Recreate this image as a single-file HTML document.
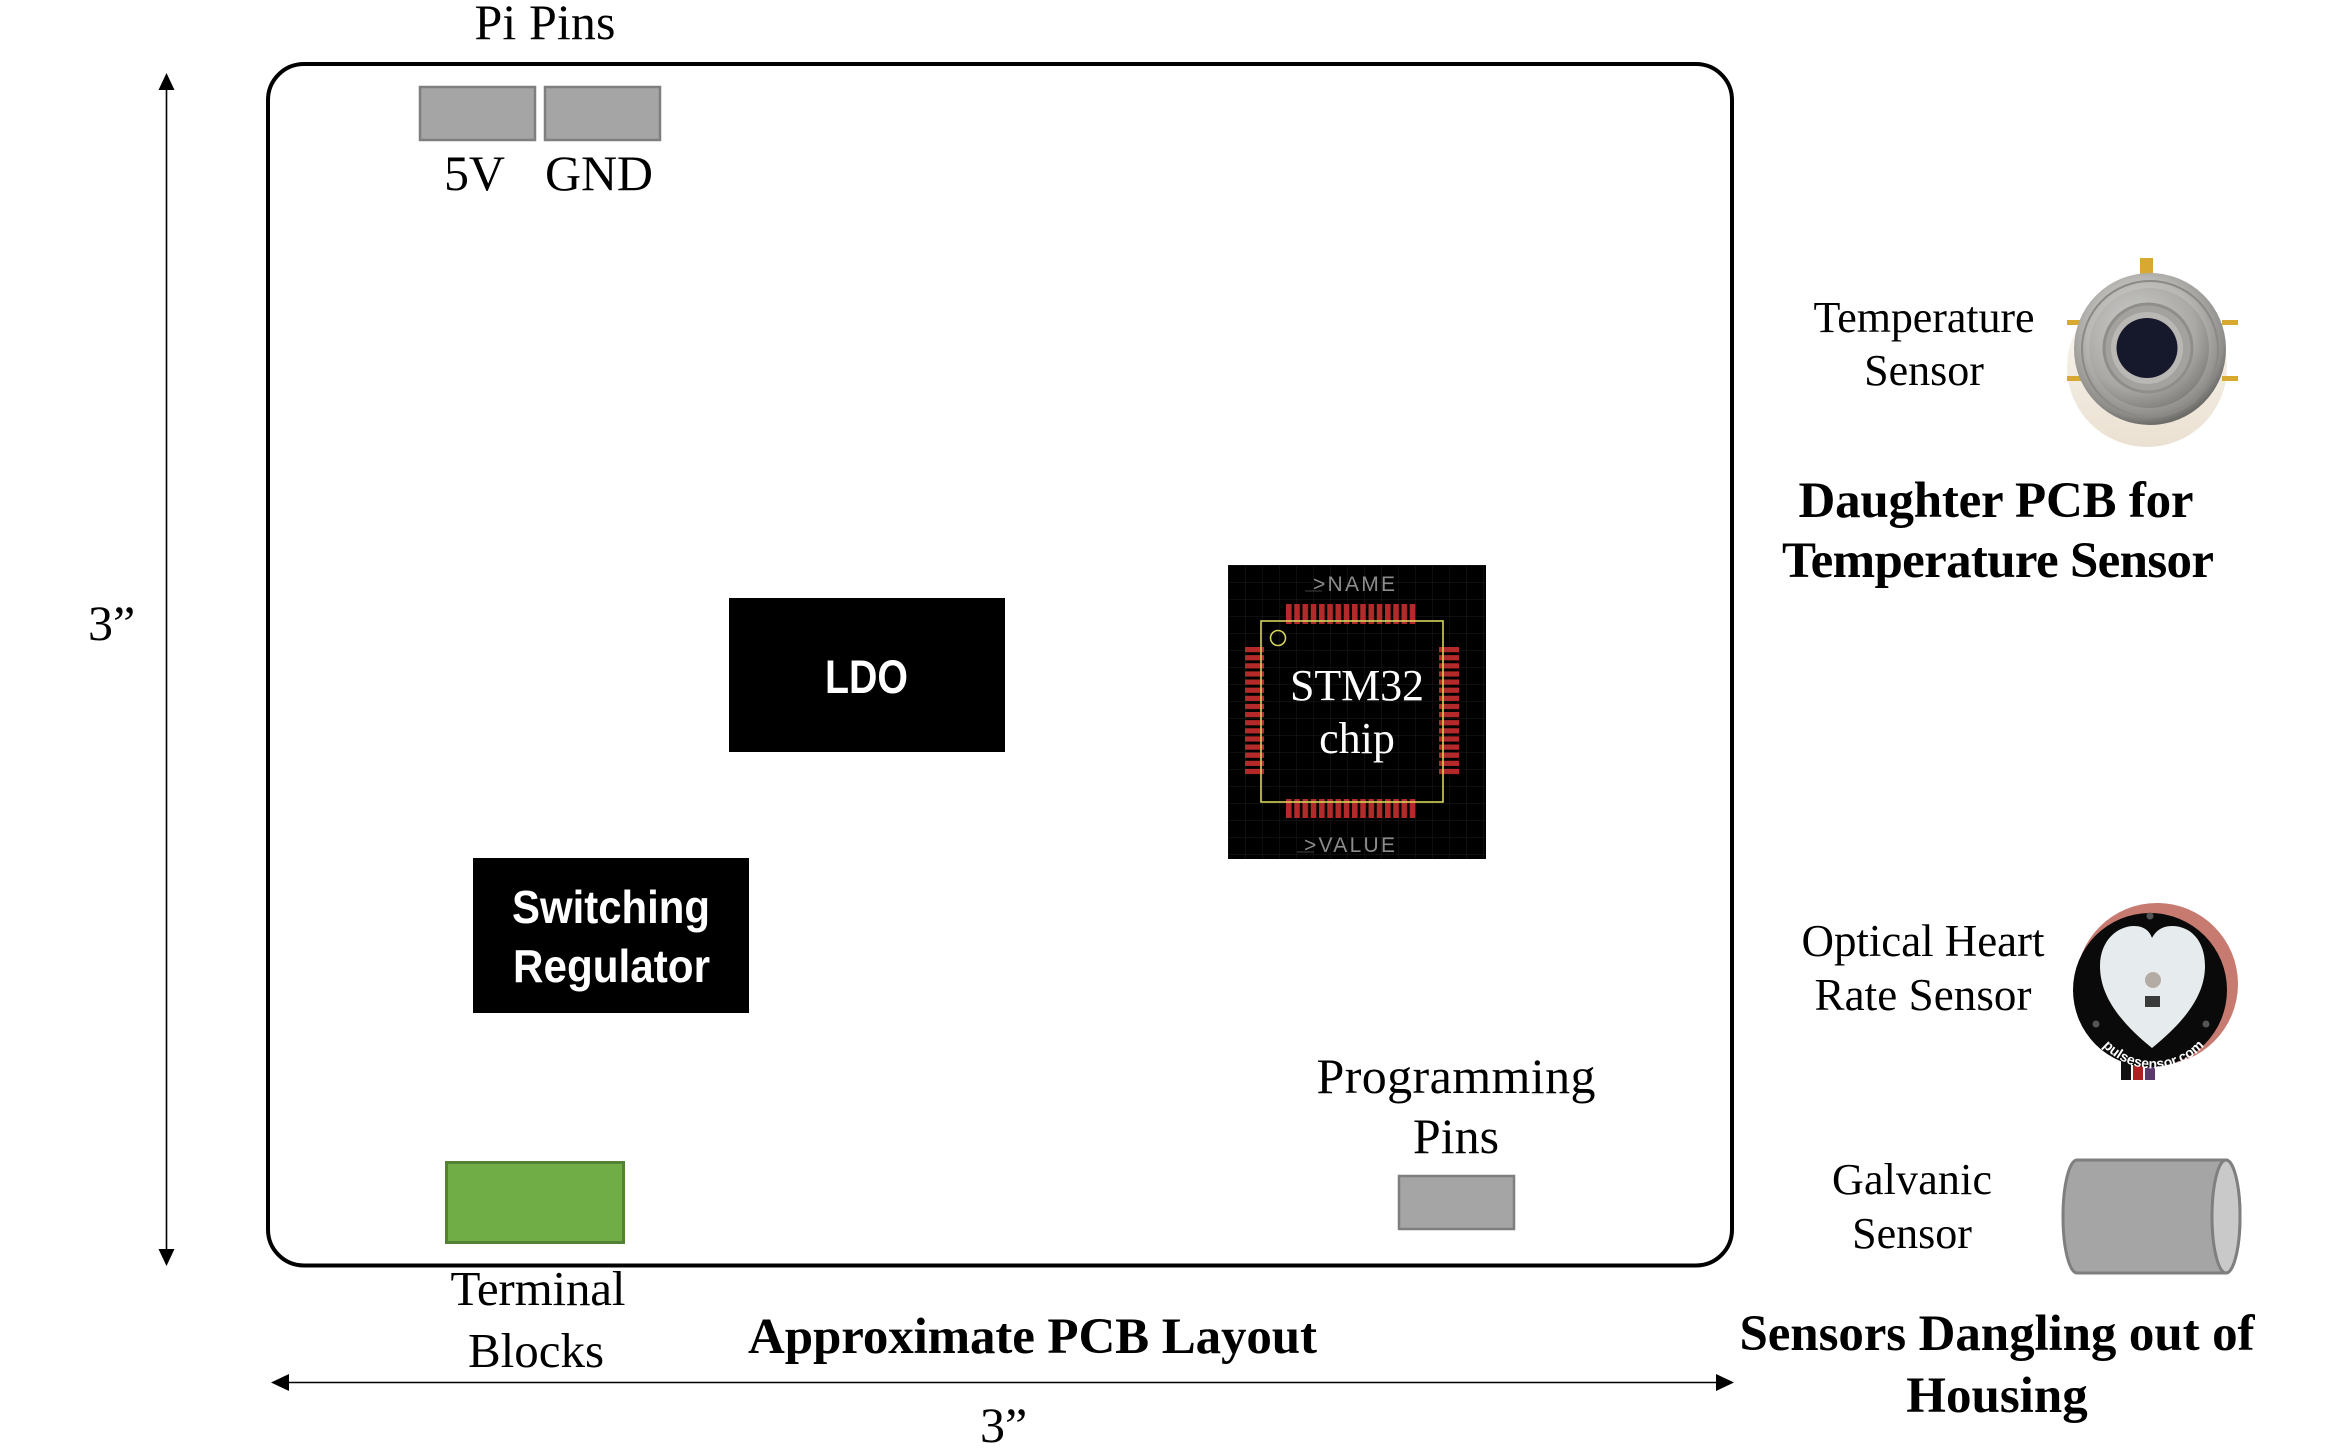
<!DOCTYPE html>
<html>
<head>
<meta charset="utf-8">
<style>
html,body{margin:0;padding:0;background:#fff;}
svg{display:block;}
.t{font-family:"Liberation Serif","Times New Roman",serif;fill:#000;}
.b{font-family:"Liberation Serif","Times New Roman",serif;font-weight:bold;fill:#000;}
.s{font-family:"Liberation Sans",Arial,sans-serif;font-weight:bold;fill:#fff;}
</style>
</head>
<body>
<svg width="2339" height="1455" viewBox="0 0 2339 1455" xmlns="http://www.w3.org/2000/svg">
<defs>
  <pattern id="padH" x="1286" y="0" width="8.25" height="2000" patternUnits="userSpaceOnUse">
    <rect x="0" y="0" width="5.6" height="2000" fill="#b42a2a"/>
  </pattern>
  <pattern id="padV" x="0" y="647" width="2000" height="8.125" patternUnits="userSpaceOnUse">
    <rect x="0" y="0" width="2000" height="5.2" fill="#b42a2a"/>
  </pattern>
  <pattern id="grid" x="1228" y="565" width="17" height="17" patternUnits="userSpaceOnUse">
    <path d="M17 0 L0 0 0 17" fill="none" stroke="#1c1c1c" stroke-width="1"/>
  </pattern>
  <radialGradient id="metal" cx="0.45" cy="0.4" r="0.6">
    <stop offset="0" stop-color="#d8d8d6"/>
    <stop offset="0.6" stop-color="#b9b8b5"/>
    <stop offset="0.9" stop-color="#8e8d8a"/>
    <stop offset="1" stop-color="#6c6b68"/>
  </radialGradient>
  <radialGradient id="metal2" cx="0.4" cy="0.35" r="0.7">
    <stop offset="0" stop-color="#cfcfcd"/>
    <stop offset="0.7" stop-color="#a9a8a5"/>
    <stop offset="1" stop-color="#7d7c79"/>
  </radialGradient>
  <linearGradient id="beige" x1="0" y1="0" x2="0" y2="1">
    <stop offset="0" stop-color="#ffffff"/>
    <stop offset="0.45" stop-color="#f3ede4"/>
    <stop offset="1" stop-color="#ebe1d2"/>
  </linearGradient>
  <path id="arcText" d="M 2085 1000 A 68 68 0 0 0 2222 1000"/>
</defs>

<!-- Title Pi Pins -->
<text class="t" x="545" y="39" font-size="50" text-anchor="middle" textLength="141">Pi Pins</text>

<!-- Board -->
<rect x="268" y="64" width="1464" height="1201.5" rx="36" ry="36" fill="none" stroke="#000" stroke-width="4"/>

<!-- Pi pin boxes -->
<rect x="420" y="87" width="115" height="53" fill="#a5a5a5" stroke="#7f7f7f" stroke-width="2.5"/>
<rect x="545" y="87" width="115" height="53" fill="#a5a5a5" stroke="#7f7f7f" stroke-width="2.5"/>
<text class="t" x="444" y="190" font-size="50" textLength="61">5V</text>
<text class="t" x="545" y="190" font-size="50" textLength="108">GND</text>

<!-- Vertical dimension arrow -->
<line x1="166.5" y1="88" x2="166.5" y2="1251" stroke="#000" stroke-width="1.6"/>
<polygon points="166.5,73 158.5,90 174.5,90" fill="#000"/>
<polygon points="166.5,1266 158.5,1249 174.5,1249" fill="#000"/>
<text class="t" x="88" y="640" font-size="50">3”</text>

<!-- Horizontal dimension arrow -->
<line x1="287" y1="1382.5" x2="1719" y2="1382.5" stroke="#000" stroke-width="1.6"/>
<polygon points="271,1382.5 289,1374 289,1391" fill="#000"/>
<polygon points="1734,1382.5 1716,1374 1716,1391" fill="#000"/>
<text class="t" x="980" y="1442" font-size="50">3”</text>

<!-- LDO -->
<rect x="729" y="598" width="276" height="154" fill="#000"/>
<text class="s" x="825" y="693" font-size="47" textLength="83" lengthAdjust="spacingAndGlyphs">LDO</text>

<!-- Switching Regulator -->
<rect x="473" y="858" width="276" height="155" fill="#000"/>
<text class="s" x="512" y="923" font-size="46" textLength="198" lengthAdjust="spacingAndGlyphs">Switching</text>
<text class="s" x="513" y="982" font-size="46" textLength="197" lengthAdjust="spacingAndGlyphs">Regulator</text>

<!-- STM32 chip -->
<rect x="1228" y="565" width="258" height="294" fill="#000"/>
<rect x="1228" y="565" width="258" height="294" fill="url(#grid)"/>
<rect x="1286" y="604" width="132" height="20" fill="url(#padH)"/>
<rect x="1286" y="799" width="132" height="19" fill="url(#padH)"/>
<rect x="1245" y="647" width="19" height="130" fill="url(#padV)"/>
<rect x="1439" y="647" width="20" height="130" fill="url(#padV)"/>
<rect x="1261" y="621" width="182" height="181" fill="none" stroke="#d6d35c" stroke-width="1.6"/>
<circle cx="1278" cy="638" r="7.5" fill="none" stroke="#d6d35c" stroke-width="1.6"/>
<line x1="1305" y1="591" x2="1322" y2="591" stroke="#444" stroke-width="1"/>
<line x1="1297" y1="852" x2="1314" y2="852" stroke="#444" stroke-width="1"/>
<text x="1313" y="591" font-family="Liberation Sans, Arial, sans-serif" font-size="21" fill="#8c8c8c" textLength="82">&gt;NAME</text>
<text x="1304" y="852" font-family="Liberation Sans, Arial, sans-serif" font-size="21" fill="#8c8c8c" textLength="91">&gt;VALUE</text>
<text class="t" x="1357" y="700" font-size="44" text-anchor="middle" fill="#fff" style="fill:#fff" textLength="134">STM32</text>
<text class="t" x="1357" y="753" font-size="44" text-anchor="middle" style="fill:#fff">chip</text>

<!-- Programming pins -->
<text class="t" x="1456" y="1093" font-size="50" text-anchor="middle" textLength="279">Programming</text>
<text class="t" x="1456" y="1153" font-size="50" text-anchor="middle">Pins</text>
<rect x="1399" y="1176" width="115" height="53" fill="#a5a5a5" stroke="#7f7f7f" stroke-width="2.5"/>

<!-- Terminal blocks -->
<rect x="446.5" y="1162.5" width="177" height="80" fill="#70ad47" stroke="#548235" stroke-width="3"/>
<text class="t" x="538" y="1305" font-size="49" text-anchor="middle" textLength="175">Terminal</text>
<text class="t" x="536" y="1367" font-size="49" text-anchor="middle">Blocks</text>

<!-- Bottom title -->
<text class="b" x="748" y="1353" font-size="51" textLength="569">Approximate PCB Layout</text>

<!-- Temperature sensor -->
<text class="t" x="1924" y="332" font-size="44" text-anchor="middle" textLength="221">Temperature</text>
<text class="t" x="1924" y="385" font-size="44" text-anchor="middle">Sensor</text>
<circle cx="2147" cy="367" r="80" fill="url(#beige)"/>
<rect x="2140" y="258" width="13" height="16" fill="#d7a930"/>
<rect x="2067" y="320" width="14" height="5" fill="#d7a930"/>
<rect x="2067" y="376" width="14" height="5" fill="#d7a930"/>
<rect x="2222" y="320" width="16" height="5" fill="#d7a930"/>
<rect x="2222" y="376" width="16" height="5" fill="#d7a930"/>
<circle cx="2150" cy="349" r="76" fill="url(#metal)"/>
<circle cx="2150" cy="349" r="68" fill="none" stroke="#8a8986" stroke-width="2"/>
<circle cx="2149" cy="348" r="60" fill="url(#metal2)"/>
<circle cx="2148" cy="348" r="44" fill="#a3a29f" stroke="#8f8e8b" stroke-width="3"/>
<circle cx="2147" cy="348" r="36" fill="#b9b8b4"/>
<ellipse cx="2147" cy="348" rx="30.5" ry="30" fill="#16192b"/>

<text class="b" x="1996" y="517" font-size="51" text-anchor="middle" textLength="395">Daughter PCB for</text>
<text class="b" x="1998" y="577" font-size="51" text-anchor="middle" textLength="432">Temperature Sensor</text>

<!-- Heart rate sensor -->
<text class="t" x="1923" y="956" font-size="45" text-anchor="middle" textLength="243">Optical Heart</text>
<text class="t" x="1923" y="1010" font-size="45" text-anchor="middle" textLength="217">Rate Sensor</text>
<circle cx="2157" cy="984" r="81" fill="#c77a70"/>
<rect x="2121" y="1058" width="10" height="22" fill="#111"/>
<rect x="2133" y="1058" width="10" height="22" fill="#b02020"/>
<rect x="2145" y="1058" width="10" height="22" fill="#5a3a6a"/>
<circle cx="2150" cy="990" r="77" fill="#0a0a0a"/>
<path d="M2152 1048 C2120 1022 2100 996 2100 966 C2100 940 2118 926 2134 926 C2145 926 2150 932 2152 938 C2155 932 2161 926 2172 926 C2190 926 2205 940 2205 966 C2205 996 2184 1022 2152 1048 Z" fill="#e6ecee"/>
<circle cx="2153" cy="980" r="8" fill="#b3aca4"/>
<rect x="2145" y="996" width="15" height="11" fill="#3a3a3a"/>
<circle cx="2150" cy="916" r="3.5" fill="#555"/>
<circle cx="2096" cy="1024" r="3.5" fill="#555"/>
<circle cx="2206" cy="1024" r="3.5" fill="#555"/>
<text font-family="Liberation Sans, Arial, sans-serif" font-weight="bold" font-size="14" fill="#fff"><textPath href="#arcText" startOffset="50%" text-anchor="middle">pulsesensor.com</textPath></text>

<!-- Galvanic sensor -->
<text class="t" x="1912" y="1194" font-size="44" text-anchor="middle" textLength="160">Galvanic</text>
<text class="t" x="1912" y="1248" font-size="44" text-anchor="middle">Sensor</text>
<path d="M2077 1160 L2226 1160 A14 56.5 0 0 1 2226 1273 L2077 1273 A14 56.5 0 0 1 2077 1160 Z" fill="#a5a5a5" stroke="#7f7f7f" stroke-width="3"/>
<ellipse cx="2226" cy="1216.5" rx="14" ry="56.5" fill="#c9c9c9" stroke="#7f7f7f" stroke-width="3"/>

<text class="b" x="1997" y="1350" font-size="51" text-anchor="middle" textLength="515">Sensors Dangling out of</text>
<text class="b" x="1997" y="1412" font-size="51" text-anchor="middle">Housing</text>
</svg>
</body>
</html>
